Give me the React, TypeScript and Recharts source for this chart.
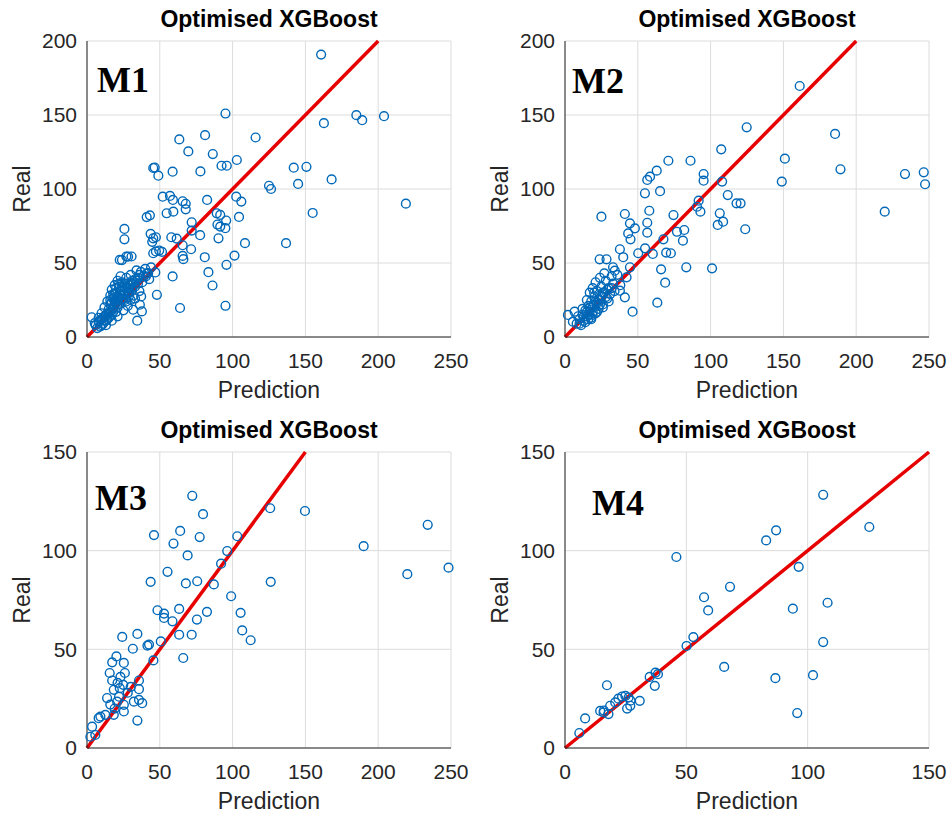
import { ScatterChart, Scatter, XAxis, YAxis, CartesianGrid, ReferenceLine } from 'recharts'

// [prediction, real] pairs
const m1Points: [number, number][] = [
  [160.8, 190.8], [95.1, 151], [185, 149.9], [189, 146.5], [204, 149.2], [162.7, 144.5],
  [63.4, 133.5], [81.1, 136.4], [115.8, 134.8], [69.6, 125.4], [86.4, 123.6], [102.9, 119.6],
  [92.4, 115.7], [96, 115.7], [45.5, 114.2], [46.5, 114.5], [49, 109], [58.8, 111.7], [77.9, 111.9],
  [142, 114.4], [150.7, 115], [168, 106.5], [145, 103.4], [125, 102.2], [126.4, 100], [219, 90.1],
  [155, 83.8], [136.7, 63.4], [108.5, 63.4], [101.3, 55], [95.8, 48.8], [95.1, 21.1], [86.2, 34.8],
  [83.4, 43.8], [80.9, 53.9], [63.9, 19.6], [58.8, 40.9], [48, 28.5], [34.5, 11], [31.7, 18.4],
  [37.7, 17.3], [37.2, 27.4], [3.2, 13.3], [5.3, 9.4], [25.7, 73], [25.7, 66], [24, 52], [27, 54.4],
  [30.6, 54.4], [41, 81], [43.2, 82.2], [52, 94.8], [57, 95.3], [59, 92.6], [54.7, 83.6], [59.3, 84.7],
  [65.7, 91.7], [67.8, 90], [67.8, 86.3], [82.5, 92.6], [71.9, 77.5], [71.9, 71.9], [77.7, 68.8],
  [71.5, 59.3], [65.7, 54.8], [66.2, 52.6], [57.9, 67.4], [61.6, 66.5], [65.7, 62], [90.3, 66.7],
  [89.1, 83.6], [91.5, 82.5], [89.6, 76], [91.5, 74.6], [95, 73.5], [95.6, 78.7], [102.5, 94.8],
  [106, 91.5], [104.4, 81.1], [43.7, 69.7], [45.5, 66.7], [47.3, 67.4], [44.8, 64.3], [45.5, 56.6],
  [49.6, 58.4], [47.3, 57.8], [51.5, 57.5], [46.9, 43.6], [40.4, 40.9], [42, 43.1], [42.7, 39.1],
  [22.5, 52.1], [28.2, 54.3], [36.3, 21.8],
  [6, 8], [8, 10], [9, 7], [10, 12], [11, 9], [12, 14], [13, 11], [14, 16], [15, 13], [15, 19],
  [16, 22], [17, 15], [18, 20], [18, 26], [19, 24], [20, 17], [20, 30], [21, 27], [22, 22], [22, 34],
  [23, 31], [24, 25], [24, 37], [25, 29], [26, 33], [27, 24], [27, 40], [28, 36], [29, 30], [30, 42],
  [31, 38], [32, 28], [33, 34], [34, 45], [35, 40], [36, 31], [37, 44], [38, 37], [40, 46], [41, 43],
  [12, 20], [14, 24], [16, 28], [17, 32], [19, 35], [21, 38], [23, 41], [13, 8], [17, 11], [21, 14],
  [25, 18], [28, 21], [30, 25], [33, 26], [10, 16], [8, 13], [19, 29], [24, 28], [26, 36], [29, 33],
  [31, 36], [44, 47],
  [7, 6], [9, 11], [11, 13], [13, 15], [14, 12], [16, 17], [17, 19], [18, 17], [19, 22], [20, 23],
  [21, 20], [22, 27], [23, 25], [24, 31], [25, 26], [26, 29], [27, 33], [28, 30], [29, 35], [30, 36],
  [31, 32], [32, 37], [33, 39], [35, 36], [36, 42], [16, 25], [18, 29], [20, 33], [22, 36], [24, 34],
  [15, 16], [12, 11], [10, 8], [26, 25], [29, 28], [34, 38], [39, 41], [20, 25], [23, 28], [17, 23],
]

const m2Points: [number, number][] = [
  [161.2, 169.6], [124.8, 141.7], [185.5, 137.2], [151, 120.5], [189.2, 113.3], [148.9, 105],
  [233.5, 110.1], [246.4, 111.3], [247.3, 103.2], [219.6, 84.7], [120.6, 90.3], [123.8, 72.8],
  [107.3, 126.8], [95.2, 110.1], [95.2, 105.6], [71, 119.1], [86.2, 119.1], [63, 112.4], [58.4, 108.3],
  [56.5, 106.1], [107.9, 105], [65.3, 98.5], [54.9, 97.1], [111.8, 95.9], [117.8, 90.3], [91.8, 92.1],
  [90.7, 88], [93, 84.7], [106.3, 83.6], [108.6, 77.9], [104.9, 75.7], [25, 81.3], [41.1, 83.1],
  [57.9, 85.3], [74.5, 82.4], [56.5, 77.2], [56.5, 70.5], [44.6, 76.8], [48, 73.4], [43.4, 70], [45, 66],
  [76.9, 71.1], [81.9, 72.3], [81, 65.1], [67.6, 66], [37.7, 59.3], [40, 53.9], [50.3, 56.6], [55, 59.9],
  [60.3, 56.1], [69.5, 57], [72.7, 56.6], [23.8, 52.5], [28.5, 52.5], [33, 47.1], [34.2, 44.8],
  [66, 45.7], [68.8, 36.7], [83.3, 47.1], [101, 46.4], [63.4, 23.2], [46.4, 17.1], [41.1, 26.8],
  [37.7, 31.3], [44.6, 47.1], [42.3, 40.3], [2, 14.9], [5.4, 10.3], [6.6, 17.1],
  [8, 9], [10, 12], [11, 8], [12, 15], [13, 11], [14, 18], [15, 14], [16, 21], [17, 17], [18, 24],
  [18, 13], [19, 20], [20, 27], [21, 16], [22, 23], [22, 31], [23, 19], [24, 28], [25, 34], [26, 22],
  [27, 30], [28, 38], [29, 26], [30, 33], [31, 29], [32, 41], [33, 36], [34, 31], [36, 42], [38, 35],
  [12, 19], [15, 25], [17, 30], [19, 33], [21, 37], [24, 40], [27, 43], [14, 10], [18, 12], [22, 17],
  [26, 20], [30, 24], [9, 14], [20, 30],
  [10, 9], [13, 14], [15, 17], [16, 15], [17, 20], [19, 17], [20, 22], [21, 24], [23, 25], [24, 22],
  [25, 27], [26, 30], [28, 27], [29, 32], [32, 33], [16, 12], [19, 15], [23, 21],
]

const m3Points: [number, number][] = [
  [72.3, 127.8], [79.7, 118.5], [125.8, 121.5], [46, 107.9], [64, 110], [59.4, 103.6], [77.4, 106.9],
  [103.2, 107.3], [96.3, 99.8], [69.1, 97.6], [92.1, 93.4], [55.3, 89.3], [43.7, 84.2], [67.9, 83.4],
  [75.7, 84.5], [87.1, 82.9], [126.2, 84.2], [99, 76.9], [149.7, 120.1], [190, 102.3], [234, 113.1],
  [220, 88.1], [248.3, 91.4], [105.5, 68.5], [106.6, 59.6], [112.4, 54.6], [48.4, 69.8], [52.9, 68.1],
  [52.9, 65.9], [58.7, 64.2], [63.3, 70.5], [82.4, 69], [75.5, 65.1], [71.9, 57.4], [63.3, 57.4],
  [50.7, 54], [42.6, 52.4], [41.5, 51.9], [24.2, 56.3], [34.6, 57.8], [31.5, 50.3], [66.1, 45.6],
  [45.6, 44.4], [20.2, 46.4], [17.3, 43.4], [25.3, 43.1], [15.6, 38], [17.3, 34.2], [35.7, 34.2],
  [24.9, 32], [22.5, 30.3], [18.4, 29.5], [35.7, 29.8], [37.9, 22.7], [35.7, 24.4], [13.8, 25.3],
  [20.7, 23.5], [25.3, 21.9], [32.2, 23.5], [25.3, 18.5], [18.4, 16.8], [12.6, 16.8], [9.2, 15.9],
  [8, 15.1], [34.6, 13.9], [3.5, 10.8], [5.7, 6.6], [2.3, 5.7], [19, 20], [22, 26], [28, 28], [30, 31],
  [23, 36], [26, 38], [21, 33], [16, 22],
]

const m4Points: [number, number][] = [
  [45.9, 96.8], [68, 81.7], [57.3, 76.4], [59, 69.7], [52.9, 56.2], [50.1, 51.7], [65.6, 41.1],
  [17.3, 31.8], [34.9, 36], [37.3, 38.2], [38.3, 37.4], [37, 31.5], [23.5, 26.1], [24.9, 26.4],
  [26.2, 25.6], [30.8, 23.9], [20.7, 23.1], [18.6, 21.4], [14.5, 18.8], [15.9, 18], [17.9, 17.2],
  [25.6, 20], [26.9, 21.4], [8.3, 15], [5.9, 7.6], [106.4, 128.3], [125.4, 112], [87, 110.3],
  [82.9, 105.2], [96.3, 91.8], [108.2, 73.6], [93.9, 70.6], [106.4, 53.7], [102.2, 36.9], [86.7, 35.4],
  [95.7, 17.7], [16, 19], [22, 25], [27, 24],
]

const ticks250 = [0, 50, 100, 150, 200, 250]
const ticks200 = [0, 50, 100, 150, 200]
const ticks150 = [0, 50, 100, 150]

const title = 'Optimised XGBoost'
const xLabel = 'Prediction'
const yLabel = 'Real'

const blue = '#0068B8'
const red = '#E60000'
const axisColor = '#262626'
const gridColor = '#dcdcdc'
const sans = '"Liberation Sans", Arial, sans-serif'

const Circle = (props: any) => {
  if (props.cx == null || props.cy == null) return null
  return <circle cx={props.cx} cy={props.cy} r={4.4} fill="none" stroke={blue} strokeWidth={1.4} />
}

interface PanelProps {
  name: string
  points: [number, number][]
  xMax: number
  yMax: number
  xTicks: number[]
  yTicks: number[]
  diagMax: number
  left: number
  top: number
  tagLeft: number
  tagTop: number
}

function Panel({ name, points, xMax, yMax, xTicks, yTicks, diagMax, left, top, tagLeft, tagTop }: PanelProps) {
  const data = points.map(([x, y]) => ({ x, y }))
  const tick = { fill: axisColor, fontSize: 21, fontFamily: sans }
  return (
    <>
      <div
        style={{
          position: 'absolute',
          left: left + 87 + 182,
          top: top + 8,
          transform: 'translateX(-50%)',
          whiteSpace: 'nowrap',
          fontFamily: sans,
          fontWeight: 'bold',
          fontSize: 23,
          lineHeight: '23px',
          color: '#000',
        }}
      >
        {title}
      </div>
      <div style={{ position: 'absolute', left, top }}>
        <ScatterChart width={471} height={404} margin={{ top: 41, right: 20, bottom: 6, left: 0 }}>
          <CartesianGrid stroke={gridColor} />
          <XAxis
            type="number"
            dataKey="x"
            domain={[0, xMax]}
            ticks={xTicks}
            interval={0}
            tick={tick}
            tickLine={false}
            tickSize={0}
            tickMargin={16}
            axisLine={{ stroke: axisColor }}
            height={61}
            label={{ value: xLabel, position: 'insideBottom', offset: 0, fill: axisColor, fontSize: 23, fontFamily: sans }}
          />
          <YAxis
            type="number"
            dataKey="y"
            domain={[0, yMax]}
            ticks={yTicks}
            interval={0}
            tick={tick}
            tickLine={false}
            tickSize={0}
            tickMargin={10}
            axisLine={{ stroke: axisColor }}
            width={87}
            label={{
              value: yLabel,
              angle: -90,
              position: 'insideLeft',
              offset: 22,
              fill: axisColor,
              fontSize: 23,
              fontFamily: sans,
              style: { textAnchor: 'middle' },
            }}
          />
          <Scatter data={data} shape={Circle} isAnimationActive={false} />
          <ReferenceLine
            segment={[{ x: 0, y: 0 }, { x: diagMax, y: diagMax }]}
            stroke={red}
            strokeWidth={3.5}
          />
        </ScatterChart>
      </div>
      <div
        style={{
          position: 'absolute',
          left: tagLeft,
          top: tagTop,
          fontFamily: '"Liberation Serif", "Times New Roman", serif',
          fontWeight: 'bold',
          fontSize: 36,
          lineHeight: '36px',
          color: '#000',
        }}
      >
        {name}
      </div>
    </>
  )
}

export default function App() {
  return (
    <div style={{ position: 'absolute', left: 0, top: 0, width: 949, height: 816, background: '#fff', overflow: 'hidden' }}>
      <Panel name="M1" points={m1Points} xMax={250} yMax={200} xTicks={ticks250} yTicks={ticks200}
        diagMax={200} left={0} top={0} tagLeft={97} tagTop={62} />
      <Panel name="M2" points={m2Points} xMax={250} yMax={200} xTicks={ticks250} yTicks={ticks200}
        diagMax={200} left={478} top={0} tagLeft={572} tagTop={63} />
      <Panel name="M3" points={m3Points} xMax={250} yMax={150} xTicks={ticks250} yTicks={ticks150}
        diagMax={150} left={0} top={411} tagLeft={95} tagTop={480} />
      <Panel name="M4" points={m4Points} xMax={150} yMax={150} xTicks={ticks150} yTicks={ticks150}
        diagMax={150} left={478} top={411} tagLeft={592} tagTop={485} />
    </div>
  )
}
